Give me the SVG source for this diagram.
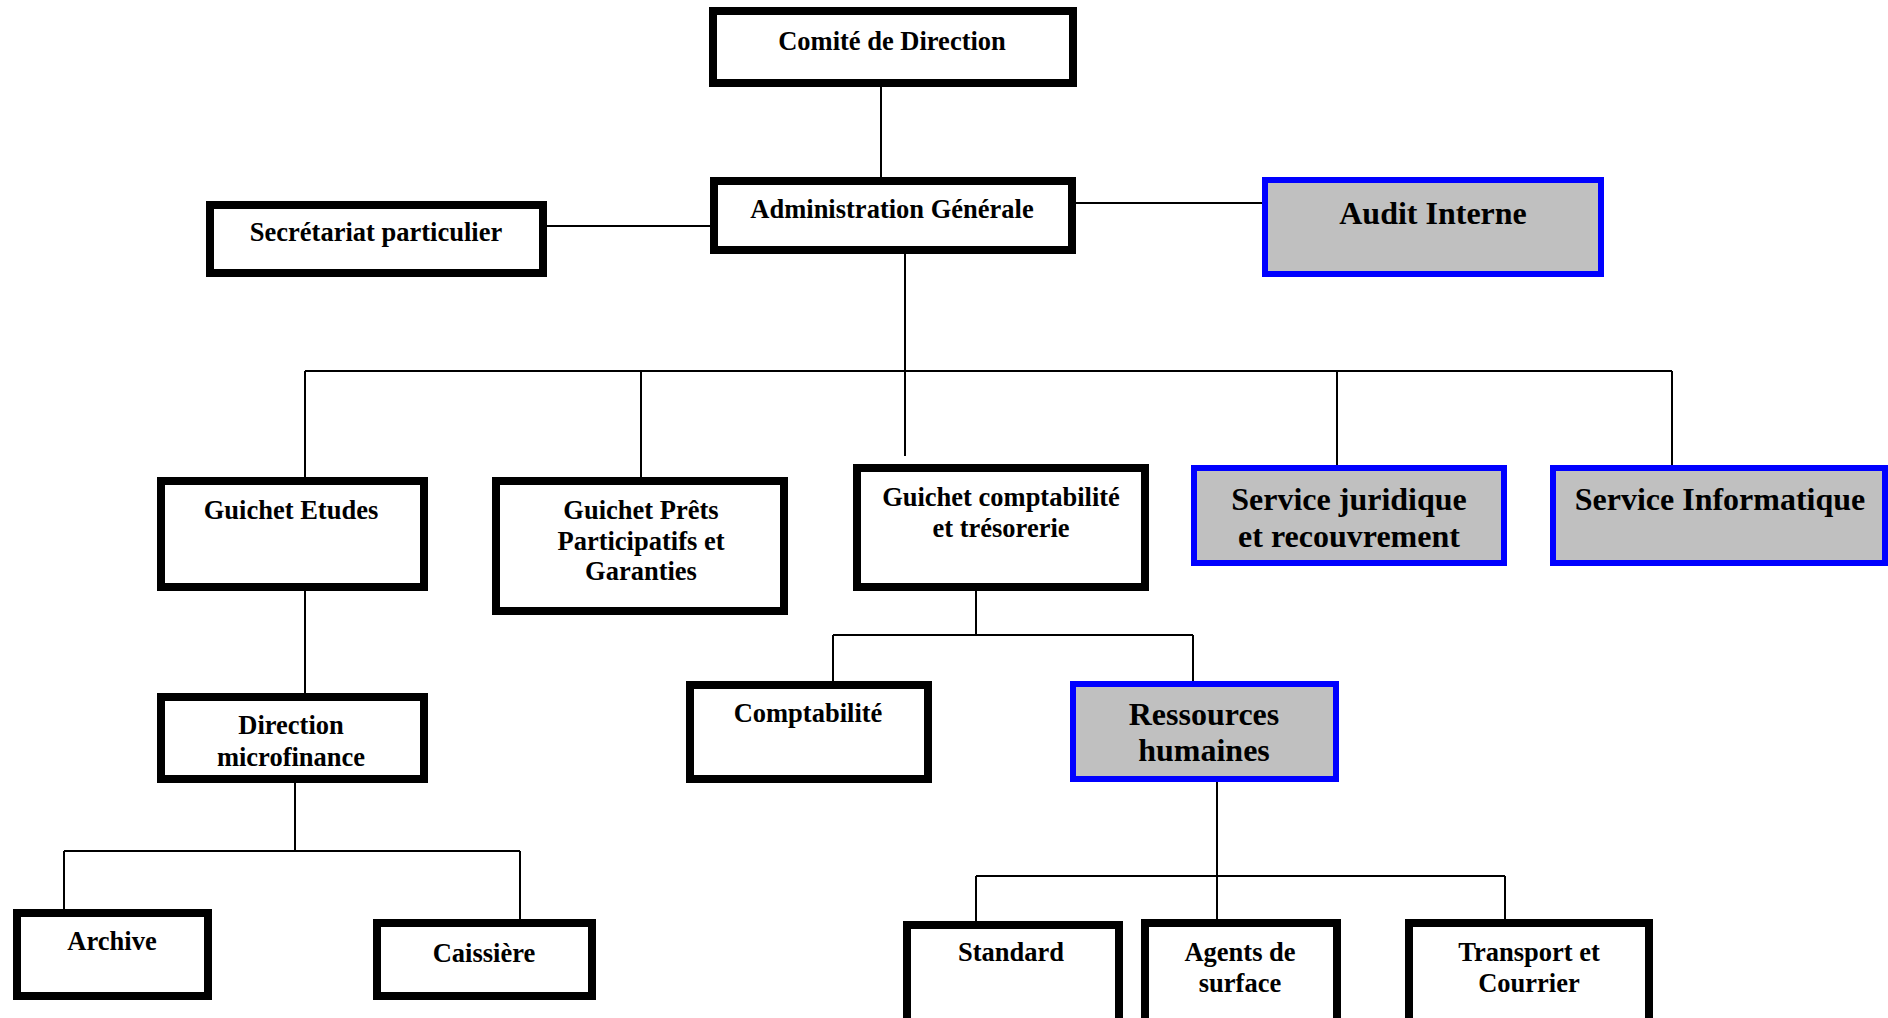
<svg xmlns="http://www.w3.org/2000/svg" width="1888" height="1018" viewBox="0 0 1888 1018">
<style>
.b{fill:#fff;stroke:#000;stroke-width:8}
.h{fill:#c0c0c0;stroke:#0000ff;stroke-width:6}
.t{font-family:"Liberation Serif","Times New Roman",serif;font-weight:bold;font-size:26.5px;text-anchor:middle;fill:#000}
.tl{font-family:"Liberation Serif","Times New Roman",serif;font-weight:bold;font-size:32px;text-anchor:middle;fill:#000}
.c{stroke:#000;stroke-width:2;fill:none}
</style>
<rect width="1888" height="1018" fill="#fff"/>
<g id="connectors" class="c">
<path d="M881 87V177"/>
<path d="M547 226H710"/>
<path d="M1076 203H1262"/>
<path d="M905 254V456"/>
<path d="M305 371H1672"/>
<path d="M305 371V477M641 371V477M1337 371V465M1672 371V465"/>
<path d="M305 591V693"/>
<path d="M295 783V851M64 851H520M64 851V909M520 851V919"/>
<path d="M976 591V635M833 635H1193M833 635V681M1193 635V681"/>
<path d="M1217 782V919M976 876H1505M976 876V921M1505 876V919"/>
</g>
<g id="comite"><rect class="b" x="713" y="11" width="360" height="72"/><text class="t" x="892" y="50">Comité de Direction</text></g>
<g id="admin"><rect class="b" x="714" y="181" width="358" height="69"/><text class="t" x="892" y="218">Administration Générale</text></g>
<g id="secretariat"><rect class="b" x="210" y="205" width="333" height="68"/><text class="t" x="376" y="241">Secrétariat particulier</text></g>
<g id="audit"><rect class="h" x="1265" y="180" width="336" height="94"/><text class="tl" x="1433" y="224">Audit Interne</text></g>
<g id="guichet-etudes"><rect class="b" x="161" y="481" width="263" height="106"/><text class="t" x="291" y="519">Guichet Etudes</text></g>
<g id="guichet-prets"><rect class="b" x="496" y="481" width="288" height="130"/><text class="t" x="641" y="519">Guichet Prêts</text><text class="t" x="641" y="550">Participatifs et</text><text class="t" x="641" y="580">Garanties</text></g>
<g id="guichet-compta"><rect class="b" x="857" y="468" width="288" height="119"/><text class="t" x="1001" y="506">Guichet comptabilité</text><text class="t" x="1001" y="537">et trésorerie</text></g>
<g id="service-juridique"><rect class="h" x="1194" y="468" width="310" height="95"/><text class="tl" x="1349" y="510">Service juridique</text><text class="tl" x="1349" y="547">et recouvrement</text></g>
<g id="service-informatique"><rect class="h" x="1553" y="468" width="332" height="95"/><text class="tl" x="1720" y="510">Service Informatique</text></g>
<g id="direction-microfinance"><rect class="b" x="161" y="697" width="263" height="82"/><text class="t" x="291" y="734">Direction</text><text class="t" x="291" y="766">microfinance</text></g>
<g id="comptabilite"><rect class="b" x="690" y="685" width="238" height="94"/><text class="t" x="808" y="722">Comptabilité</text></g>
<g id="ressources-humaines"><rect class="h" x="1073" y="684" width="263" height="95"/><text class="tl" x="1204" y="725">Ressources</text><text class="tl" x="1204" y="761">humaines</text></g>
<g id="archive"><rect class="b" x="17" y="913" width="191" height="83"/><text class="t" x="112" y="950">Archive</text></g>
<g id="caissiere"><rect class="b" x="377" y="923" width="215" height="73"/><text class="t" x="484" y="962">Caissière</text></g>
<g id="standard"><rect class="b" x="907" y="925" width="212" height="110"/><text class="t" x="1011" y="961">Standard</text></g>
<g id="agents"><rect class="b" x="1145" y="923" width="192" height="110"/><text class="t" x="1240" y="961">Agents de</text><text class="t" x="1240" y="992">surface</text></g>
<g id="transport"><rect class="b" x="1409" y="923" width="240" height="110"/><text class="t" x="1529" y="961">Transport et</text><text class="t" x="1529" y="992">Courrier</text></g>
</svg>
